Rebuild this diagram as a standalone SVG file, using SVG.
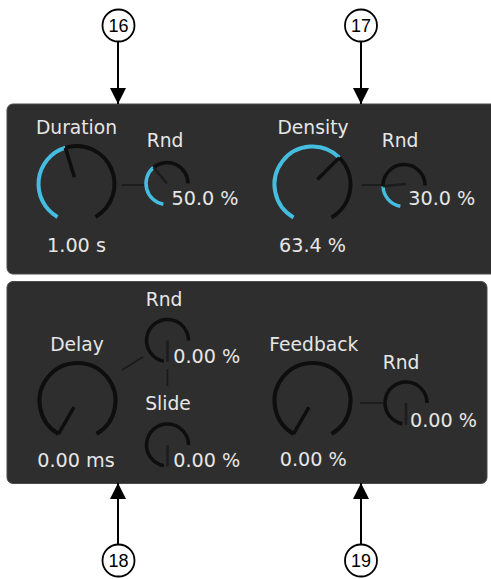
<svg xmlns="http://www.w3.org/2000/svg" width="491" height="579" viewBox="0 0 491 579">
<defs>
<style>
.panel{fill:#2e2e2e;stroke:#4a4a4a;stroke-width:1}
.trk{fill:none;stroke:#0e0e0e;stroke-width:4;stroke-linecap:butt}
.val{fill:none;stroke:#45bde0;stroke-width:4;stroke-linecap:butt}
.trks{fill:none;stroke:#0e0e0e;stroke-width:3.5}
.vals{fill:none;stroke:#45bde0;stroke-width:3.5}
.ndl{stroke:#0e0e0e;stroke-width:3.5;stroke-linecap:butt}
.ndls{stroke:#1c1c1c;stroke-width:2.5}
.link{stroke:#1a1a1a;stroke-width:1.6}
.lbl{font-family:"DejaVu Sans",sans-serif;font-size:18.7px;fill:#e6e6e6;text-anchor:middle}
.num{font-family:"DejaVu Sans",sans-serif;font-size:19.2px;fill:#e6e6e6}
.mid{text-anchor:middle}
.co{fill:#fff;stroke:#000;stroke-width:1.8}
.cot{font-family:"Liberation Sans",Arial,sans-serif;font-size:18px;fill:#000;text-anchor:middle}
.arr{stroke:#000;stroke-width:2}
</style>
<marker id="ah" viewBox="0 0 16 16" refX="16" refY="8" markerWidth="16" markerHeight="16" markerUnits="userSpaceOnUse" orient="auto">
<path d="M0,0 L16,8 L0,16 Z" fill="#000"/>
</marker>
</defs>
<rect width="491" height="579" fill="#fff"/>

<g id="panel-top"><rect class="panel" x="7" y="104" width="490" height="170" rx="6"/></g>
<g id="panel-bottom"><rect class="panel" x="7" y="281.5" width="480" height="202" rx="6"/></g>

<g id="connectors">
<line class="link" x1="121.7" y1="185" x2="144" y2="185"/>
<line class="link" x1="361.7" y1="185" x2="383.5" y2="185"/>
<line class="link" x1="122" y1="370" x2="143" y2="357"/>
<line class="link" x1="167.5" y1="369" x2="167.5" y2="386"/>
<line class="link" x1="360" y1="403" x2="383" y2="403"/>
<line class="arr" x1="118" y1="42" x2="118" y2="104" marker-end="url(#ah)"/>
<line class="arr" x1="361" y1="42" x2="361" y2="104" marker-end="url(#ah)"/>
<line class="arr" x1="118" y1="544" x2="118" y2="483" marker-end="url(#ah)"/>
<line class="arr" x1="361" y1="544" x2="361" y2="483" marker-end="url(#ah)"/>
</g>

<g id="knob-duration">
<text class="lbl" x="76.5" y="134">Duration</text>
<path class="val" d="M57.5,216.91 A38,38 0 0 1 65.39,147.66"/>
<path class="trk" d="M65.39,147.66 A38,38 0 0 1 95.5,216.91"/>
<line class="ndl" x1="74.45" y1="177.31" x2="65.39" y2="147.66"/>
<text class="num mid" x="76.5" y="251.5">1.00 s</text>
</g>

<g id="knob-duration-rnd">
<text class="lbl" x="165" y="147">Rnd</text>
<path class="vals" d="M163.35,204.18 A21,21 0 0 1 153.5,167.41"/>
<path class="trks" d="M153.5,167.41 A21,21 0 0 1 188,183.5"/>
<line class="ndls" x1="167" y1="183.5" x2="153.5" y2="167.41"/>
<text class="num" x="171.5" y="205">50.0 %</text>
</g>

<g id="knob-density">
<text class="lbl" x="313" y="134">Density</text>
<path class="val" d="M293.5,217.41 A38,38 0 1 1 339.37,157.63"/>
<path class="trk" d="M339.37,157.63 A38,38 0 0 1 331.5,217.41"/>
<line class="ndl" x1="317.45" y1="179.55" x2="339.37" y2="157.63"/>
<text class="num mid" x="312.5" y="251.5">63.4 %</text>
</g>

<g id="knob-density-rnd">
<text class="lbl" x="400" y="147">Rnd</text>
<path class="vals" d="M400.35,206.18 A21,21 0 0 1 383.01,186.23"/>
<path class="trks" d="M383.01,186.23 A21,21 0 1 1 425,185.5"/>
<line class="ndls" x1="406" y1="184" x2="383.01" y2="186.23"/>
<text class="num" x="408.3" y="205">30.0 %</text>
</g>

<g id="knob-delay">
<text class="lbl" x="77" y="351">Delay</text>
<path class="trk" d="M58.5,433.91 A38,38 0 1 1 96.5,433.91"/>
<line class="ndl" x1="74" y1="407.06" x2="58.5" y2="433.91"/>
<text class="num mid" x="76" y="466.5">0.00 ms</text>
</g>

<g id="knob-delay-rnd">
<text class="lbl" x="164" y="306">Rnd</text>
<path class="trks" d="M163.85,361.18 A21,21 0 1 1 188.5,340.5"/>
<line class="ndls" x1="167.5" y1="340.5" x2="167.5" y2="362"/>
<text class="num" x="173.3" y="363.3">0.00 %</text>
</g>

<g id="knob-slide">
<text class="lbl" x="168" y="410">Slide</text>
<path class="trks" d="M163.85,465.68 A21,21 0 1 1 188.5,445"/>
<line class="ndls" x1="167.5" y1="445" x2="167.5" y2="466.5"/>
<text class="num" x="173.3" y="467">0.00 %</text>
</g>

<g id="knob-feedback">
<text class="lbl" x="313.8" y="350.7">Feedback</text>
<path class="trk" d="M293.5,433.91 A38,38 0 1 1 331.5,433.91"/>
<line class="ndl" x1="309" y1="407.06" x2="293.5" y2="433.91"/>
<text class="num mid" x="313.3" y="465.5">0.00 %</text>
</g>

<g id="knob-feedback-rnd">
<text class="lbl" x="401" y="369.3">Rnd</text>
<path class="trks" d="M402.35,423.68 A21,21 0 1 1 427,403"/>
<line class="ndls" x1="406" y1="403" x2="406" y2="425"/>
<text class="num" x="410" y="426.7">0.00 %</text>
</g>

<g id="callout-16"><circle class="co" cx="118.5" cy="25.5" r="16"/><text class="cot" x="118.5" y="32">16</text></g>
<g id="callout-17"><circle class="co" cx="361" cy="25.5" r="16"/><text class="cot" x="361" y="32">17</text></g>
<g id="callout-18"><circle class="co" cx="118.5" cy="560.5" r="16"/><text class="cot" x="118.5" y="567">18</text></g>
<g id="callout-19"><circle class="co" cx="361" cy="560.5" r="16"/><text class="cot" x="361" y="567">19</text></g>
</svg>
